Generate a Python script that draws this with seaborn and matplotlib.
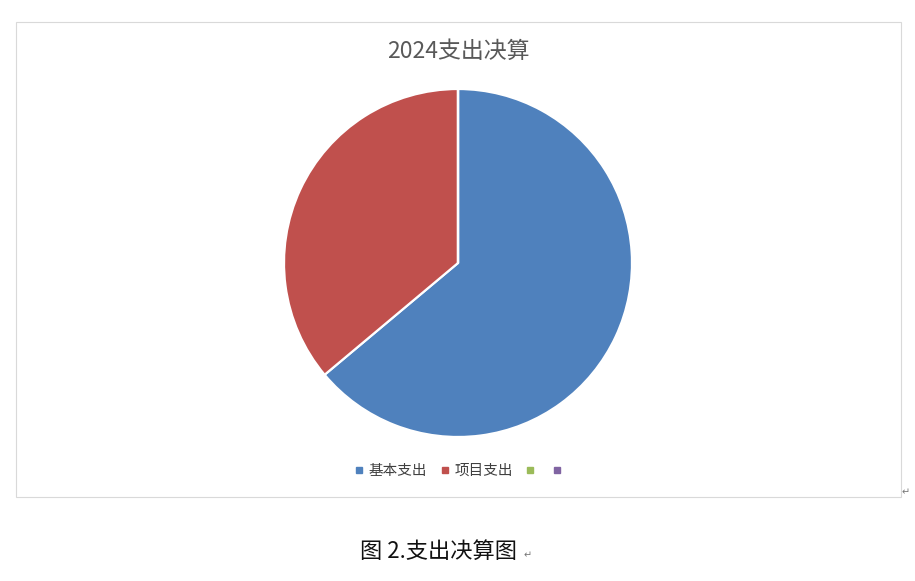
import matplotlib
matplotlib.use("Agg")
import matplotlib.pyplot as plt
import seaborn as sns
from matplotlib.lines import Line2D
from matplotlib.patches import Rectangle

sns.set_theme(style="white")
plt.rcParams['font.family'] = ['Noto Sans CJK SC', 'DejaVu Sans']

categories = ["基本支出", "项目支出", "", ""]
values = [63.9, 36.1, 0.0, 0.0]
colors = ["#4F81BD", "#C0504D", "#9BBB59", "#8064A2"]
title = "2024支出决算"
caption = "图 2.支出决算图"

W, H = 915, 581
fig = plt.figure(figsize=(W / 100, H / 100), dpi=100)
fig.patch.set_facecolor("white")

# chart frame
fig.patches.append(Rectangle((16 / W, 1 - 497 / H), 885 / W, 475 / H,
                             transform=fig.transFigure, fill=False,
                             edgecolor="#D9D9D9", linewidth=0.8))

cx, cy, r = 458, 263, 174
ax = fig.add_axes([(cx - r) / W, 1 - (cy + r) / H, 2 * r / W, 2 * r / H])
ax.pie(values, colors=colors, startangle=90, counterclock=False,
       wedgeprops=dict(edgecolor="white", linewidth=1.6))
ax.set_aspect("equal")
ax.set_xlim(-1, 1)
ax.set_ylim(-1, 1)
ax.axis("off")

fig.text(458 / W, 1 - 51 / H, title, ha="center", va="center",
         fontsize=16.5, color="#595959")

handles = [Line2D([], [], marker="s", linestyle="none", markersize=5,
                  markerfacecolor=c, markeredgecolor=c) for c in colors]
fig.legend(handles, categories, loc="center", bbox_to_anchor=(461 / W, 1 - 471 / H),
           ncol=4, frameon=False, fontsize=10.5, handlelength=0.6,
           handletextpad=0.35, columnspacing=0.9, labelcolor="#404040")

fig.text(439 / W, 1 - 551 / H, caption, ha="center", va="center",
         fontsize=16, color="#111111")
fig.text(528 / W, 1 - 555 / H, "↵", ha="center", va="center",
         fontsize=7, color="#777777", family=['DejaVu Sans'])
fig.text(906 / W, 1 - 492 / H, "↵", ha="center", va="center",
         fontsize=7, color="#777777", family=['DejaVu Sans'])

fig.savefig("out.png", dpi=100, facecolor="white")
